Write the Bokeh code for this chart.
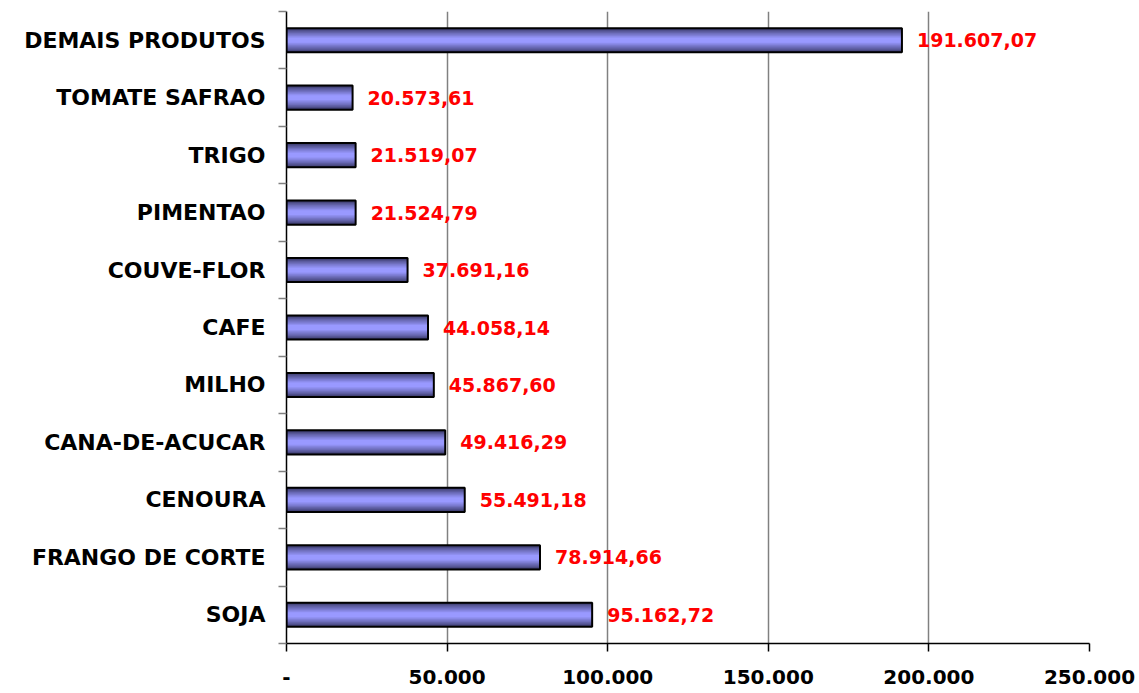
from bokeh.plotting import figure
from bokeh.models import FixedTicker, ColumnDataSource, Range1d
from bokeh.core.properties import value
from bokeh.embed import file_html
from bokeh.resources import INLINE

# ---- data (bottom to top) ----
categories = ["SOJA", "FRANGO DE CORTE", "CENOURA", "CANA-DE-ACUCAR", "MILHO", "CAFE",
              "COUVE-FLOR", "PIMENTAO", "TRIGO", "TOMATE SAFRAO", "DEMAIS PRODUTOS"]
values = [95162.72, 78914.66, 55491.18, 49416.29, 45867.60, 44058.14,
          37691.16, 21524.79, 21519.07, 20573.61, 191607.07]
x_ticks = [0, 50000, 100000, 150000, 200000, 250000]


def br(v, dec=2):
    s = f"{v:,.{dec}f}"
    return s.replace(",", "X").replace(".", ",").replace("X", ".")


pos = list(range(len(categories)))
labels = [br(v) for v in values]
src = ColumnDataSource(dict(y=pos, v=values, lab=labels))

p = figure(width=1139, height=693, output_backend="svg", toolbar_location=None,
           x_range=Range1d(0, 250000), y_range=Range1d(-0.5, len(categories) - 0.5),
           min_border_left=286, min_border_right=50, min_border_top=11, min_border_bottom=50)
p.outline_line_color = None
p.background_fill_color = "white"

# gradient-like bars: stacked layers from dark edge to light center
H = 0.42
dark = (55, 55, 100)
light = (153, 153, 255)
N = 9
for k in range(N):
    t = k / (N - 1)
    c = tuple(int(dark[j] + (light[j] - dark[j]) * (t ** 0.8)) for j in range(3))
    h = H * (1 - 0.9 * k / N)
    p.hbar(y="y", right="v", left=0, height=h, source=src,
           fill_color="#%02x%02x%02x" % c, line_color=None)
p.hbar(y="y", right="v", left=0, height=H, source=src,
       fill_color=None, line_color="black", line_width=2)

p.text(x="v", y="y", text="lab", source=src, x_offset=15,
       text_font=value("DejaVu Sans"), text_font_style="bold", text_font_size="19px",
       text_color="#ff0000", text_baseline="middle", text_align="left")

# x axis
p.xaxis.ticker = FixedTicker(ticks=x_ticks)
p.xaxis.major_label_overrides = {t: ("-" if t == 0 else br(t, 0)) for t in x_ticks}
p.xaxis.major_label_text_font = "DejaVu Sans"
p.xaxis.major_label_text_font_style = "bold"
p.xaxis.major_label_text_font_size = "20px"
p.xaxis.major_label_text_color = "black"
p.xaxis.major_label_standoff = 18
p.xaxis.major_tick_out = 8
p.xaxis.major_tick_in = 0
p.xaxis.major_tick_line_color = "black"
p.xaxis.major_tick_line_width = 1.5
p.xaxis.minor_tick_line_color = None
p.xaxis.axis_line_color = "black"
p.xaxis.axis_line_width = 1.5

# y axis
p.yaxis.ticker = FixedTicker(ticks=pos, minor_ticks=[i - 0.5 for i in range(len(categories) + 1)])
p.yaxis.major_label_overrides = {i: c for i, c in zip(pos, categories)}
p.yaxis.major_label_text_font = "DejaVu Sans"
p.yaxis.major_label_text_font_style = "bold"
p.yaxis.major_label_text_font_size = "22px"
p.yaxis.major_label_text_color = "black"
p.yaxis.major_tick_out = 0
p.yaxis.major_tick_in = 0
p.yaxis.major_tick_line_color = None
p.yaxis.minor_tick_out = 8
p.yaxis.minor_tick_in = 0
p.yaxis.minor_tick_line_color = "#808080"
p.yaxis.minor_tick_line_width = 1.5
p.yaxis.axis_line_color = "black"
p.yaxis.axis_line_width = 1.5
p.yaxis.major_label_standoff = 13

p.xgrid.grid_line_color = "#808080"
p.xgrid.grid_line_width = 1.5
p.ygrid.grid_line_color = None

open("out.html", "w").write(file_html(p, INLINE))
